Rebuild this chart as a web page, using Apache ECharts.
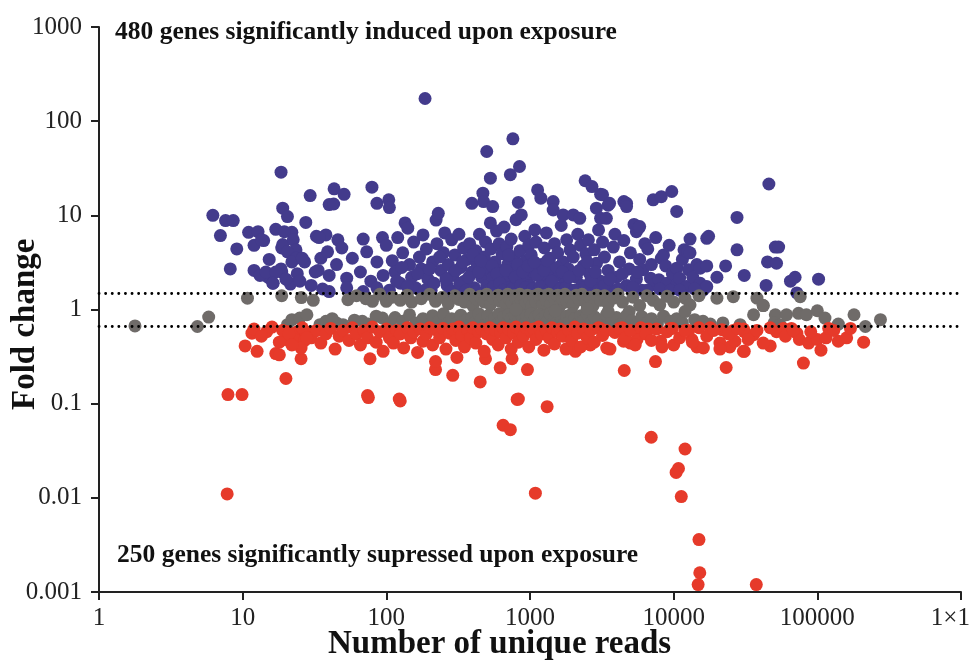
<!DOCTYPE html>
<html><head><meta charset="utf-8">
<script src="https://cdn.jsdelivr.net/npm/echarts/dist/echarts.min.js"></script>
<style>html,body{margin:0;padding:0;background:#fff}#c{width:970px;height:663px}</style>
</head><body><div id="c"></div>
<script>
const xTickLabels = ['1','10','100','1000','10000','100000','1×10⁶'];
const yTickLabels = ['0.001','0.01','0.1','1','10','100','1000'];
const upperCut = 1.5;
const lowerCut = 0.667;
const inducedText = '480 genes significantly induced upon exposure';
const suppressedText = '250 genes significantly supressed upon exposure';
const xTitle = 'Number of unique reads';
const yTitle = 'Fold change';

const inducedGenes = [
[6.2,10],[7.6,8.8],[8.6,8.8],[7,6.1],[9.1,4.4],[8.2,2.7],
[11,6.6],[12.8,6.7],[12,4.8],[14,5.4],[13.5,5.5],[15.3,3.4],[12,2.6],[15,2.2],[16.2,1.9],[13.2,2.3],[14.5,2.5],
[18.5,28.7],[19,11.9],[20.5,9.7],[17,7.1],[22,6.6],[19.5,6.7],[18.7,4.5],[19,4.9],[22.5,5.5],[23.5,4.3],[20.5,4.1],[23.5,3.5],[22,3.2],[27,3.2],[26,3.5],[18.7,2.5],[18.5,2.7],[17,2.5],[21.5,1.86],[16.3,1.9],[20,2.1],[24,2.4],[25,2.0],
[27.5,8.4],[29.5,16.2],[32.6,6],[38,6.2],[34,5.8],[35,3.5],[39,4.1],[33.5,2.6],[32,2.5],[40,2.3],[40,13],[45,3],[40,1.55],[30,1.8],[36,1.65],
[43.3,19.1],[50.8,16.7],[43,13.2],[46,5.5],[49,4.5],[53,2.15],[53,1.7],[58,3.5],[66,2.5],[69,5.6],[73,4.1],[69,1.55],[78,2],[79.4,19.9],[86,13.4],[86,3.2],[86,1.7],[94,5.8],[95,2.3],
[104,14.6],[105,12.1],[100,4.8],[110,3.3],[115,2.5],[120,5.8],[125,1.9],[130,4.0],[135,8.3],[141,7.3],[145,3.0],[150,2.2],[155,5.2],[160,1.7],[170,3.6],[175,2.7],[186,174],[180,6.2],[190,4.4],[195,2.1],[205,1.6],[210,3.2],[222,8.9],[230,10.5],[225,5.0],[240,2.6],[250,4.0],[255,6.5],[265,1.8],[270,3.0],[285,5.5],[290,2.3],[300,3.8],[310,1.6],[320,6.3],[330,2.8],[345,4.5],[350,2.0],[365,3.4],[380,5.0],[394,13.4],[395,2.5],[410,1.7],[420,4.2],[430,3.0],[445,6.3],[460,2.2],[470,17.2],[475,14],[480,3.6],[490,5.2],[500,47.6],[500,1.8],[510,2.7],[530,24.8],[530,8.3],[535,4.4],[550,12.4],[555,2.2],[570,3.2],[585,6.8],[600,1.6],[610,5.0],[625,2.6],[640,3.9],[660,7.5],[670,2.0],[690,4.6],[700,3.0],[720,1.7],[730,27],[740,5.6],[760,65],[760,2.4],[780,3.5],[800,9.0],[810,2.0],[830,13.7],[845,33],[850,4.2],[870,10.1],[880,2.8],[900,1.6],[920,6.0],[940,3.3],[960,2.2],[980,4.8],
[1000,1.8],[1020,3.8],[1050,2.5],[1080,7.0],[1100,5.2],[1130,18.6],[1150,1.6],[1190,15.2],[1200,3.0],[1230,2.1],[1260,4.5],[1300,6.5],[1330,1.8],[1370,3.5],[1400,2.6],[1450,14],[1450,11.4],[1480,5.0],[1520,1.7],[1560,4.0],[1600,2.3],[1650,7.8],[1700,10.1],[1700,3.2],[1750,1.9],[1800,5.5],[1850,2.7],[1900,4.3],[1950,1.6],[2000,10.1],[2000,3.6],[2100,2.2],[2150,6.3],[2220,9.3],[2250,4.8],[2300,1.8],[2350,2.9],[2420,23.3],[2450,3.9],[2550,5.5],[2600,2.4],[2700,20.2],[2700,1.7],[2800,4.3],[2900,11.9],[2900,3.1],[3000,7.0],[3100,16.7],[3100,9.3],[3100,2.0],[3200,16.5],[3200,5.2],[3400,9.3],[3300,3.6],[3500,12.8],[3580,13.4],[3500,2.6],[3700,1.6],[3800,4.6],[3900,6.3],[4000,2.2],[4200,3.2],[4500,14],[4500,5.4],[4700,13.4],[4700,12.4],[4700,1.8],[4900,2.7],[5000,4.0],[5300,8.0],[5500,6.7],[5500,2.1],[5700,7.3],[5800,7.6],[5800,3.4],[6000,1.6],[6100,2.65],[6300,5.0],[6600,4.4],[6900,2.15],[7000,3.0],[7200,14.6],[7300,1.83],[7500,5.8],[7900,2.07],[8200,15.8],[8200,3.5],[8500,3.8],[8800,2.9],[9000,1.9],[9300,4.8],[9700,17.9],[9800,2.4],[10500,11],[10500,2.75],[10500,1.83],[11000,2.15],[11500,3.4],[11800,4.3],[12300,1.75],[12500,4.1],[12700,2.65],[13000,5.6],[13000,4.0],[13600,2.2],[14500,3.0],[15300,2.75],[15300,1.9],[16000,1.6],[17000,5.7],[17500,6.0],[17000,2.9],[17000,1.75],[20000,2.2],[23000,2.9],[27600,9.5],[27600,4.3],[31000,2.3],[44000,1.8],[45000,3.2],[46000,21.5],[51000,4.6],[53800,4.6],[52000,3.1],[65000,2.0],[70000,2.2],[72000,1.5],[102000,2.1],
[105,1.6],[118,2.0],[128,2.8],[140,1.75],[165,2.4],[185,1.6],[200,2.7],[215,1.9],[235,3.6],[260,2.1],[280,1.55],[305,2.6],[325,1.9],[340,3.2],[360,1.6],[375,2.2],[400,3.8],[425,1.55],[440,2.5],[455,3.3],[515,1.6],[545,2.9],[560,1.75],[590,2.4],[615,1.9],[650,1.6],[680,2.6],[710,3.8],[750,1.65],[790,2.2],[820,3.0],[860,1.8],[890,2.5],[930,1.7],[970,2.9],[1040,1.65],[1070,3.2],[1120,2.3],[1180,1.75],[1250,2.6],[1320,3.3],[1360,1.6],[1420,2.0],[1540,2.8],[1620,1.65],[1680,2.5],[1780,1.7],[1880,2.2],[2050,1.6],[2200,2.6],[2400,1.7],[2500,3.2],[2650,2.0],[2850,2.5],[3000,1.6],[3300,1.8],[3600,2.1],[4100,1.65],[4400,2.4],[5200,1.7],[5600,2.5],[6500,1.6],[8000,1.65],[9500,1.6],[11000,1.6],[14000,1.65]
];

const unchangedGenes = [
[1.78,0.67],[4.84,0.66],[5.8,0.83],[10.8,1.32],[18.7,1.4],[25.6,1.34],[31,1.25],[20.5,0.69],[22,0.78],[25,0.81],[28,0.88],[34.5,0.69],[45,0.72],[54,1.27],[68,0.75],[80,1.22],[94,0.81],[100,1.22],
[38,0.75],[42,0.8],[50,0.69],[60,0.77],[75,0.7],[85,0.85],[62,1.4],[72,1.3],[90,1.45],
[110,1.35],[125,1.25],[140,1.42],[150,1.2],[175,1.3],[200,1.45],[220,1.22],[245,1.35],[270,1.15],[300,1.4],[320,1.28],[350,1.2],[380,1.45],[400,1.1],[420,1.3],[450,1.38],[480,1.2],[500,1.45],[530,1.12],[560,1.3],[600,1.42],[620,1.22],[650,1.35],[680,1.12],[700,1.45],[720,1.28],[750,1.18],[780,1.4],[800,1.3],[820,1.08],[850,1.45],[870,1.22],[900,1.35],[930,1.15],[960,1.42],[1000,1.25],[1030,1.1],[1060,1.38],[1100,1.2],[1140,1.45],[1180,1.3],[1220,1.12],[1260,1.4],[1300,1.25],[1350,1.45],[1400,1.15],[1450,1.35],[1500,1.22],[1560,1.42],[1620,1.1],[1680,1.3],[1750,1.45],[1820,1.2],[1900,1.35],[2000,1.12],[2100,1.42],[2200,1.27],[2300,1.45],[2450,1.18],[2600,1.35],[2750,1.1],[2900,1.42],[3100,1.25],[3300,1.4],[3500,1.15],[3800,1.32],[4100,1.45],[4400,1.2],[4900,0.95],[5200,1.35],[5800,1.1],[6500,1.4],[7200,1.25],[8000,1.12],[9000,1.38],[12000,1.32],[13000,1.12],[20000,1.32],[26000,1.37],[38000,1.32],[42000,1.1],[76000,1.37],[10000,1.2],[15000,1.4],
[105,0.7],[115,0.82],[130,0.75],[145,0.88],[160,0.72],[180,0.8],[195,0.68],[210,0.86],[230,0.74],[250,0.9],[265,0.7],[285,0.8],[310,0.72],[330,0.87],[355,0.76],[375,0.68],[395,0.83],[415,0.73],[440,0.9],[460,0.79],[490,0.7],[510,0.86],[540,0.75],[570,0.82],[590,0.69],[610,0.9],[640,0.77],[660,0.84],[690,0.71],[710,0.88],[740,0.8],[770,0.7],[790,0.86],[830,0.75],[860,0.9],[890,0.82],[920,0.7],[950,0.86],[990,0.77],[1020,0.9],[1050,0.72],[1090,0.83],[1120,0.68],[1160,0.88],[1200,0.78],[1240,0.71],[1280,0.86],[1320,0.75],[1380,0.9],[1430,0.69],[1480,0.81],[1540,0.73],[1600,0.88],[1660,0.77],[1720,0.7],[1800,0.85],[1880,0.74],[1960,0.9],[2050,0.8],[2150,0.7],[2250,0.86],[2350,0.76],[2500,0.9],[2650,0.72],[2800,0.84],[3000,0.78],[3200,0.69],[3400,0.88],[3700,0.75],[4000,0.82],[4300,0.7],[4700,0.86],[5100,0.76],[5500,0.68],[6000,0.84],[6600,0.73],[7000,0.8],[7700,0.7],[8500,0.85],[9500,0.75],[10500,0.8],[11500,0.72],[14000,0.78],[16000,0.75],[18000,0.7],[22000,0.72],[29000,0.69],[36000,0.88],[51000,0.88],[61000,0.88],[74000,0.91],[84000,0.88],[100000,0.97],[113000,0.81],[50000,0.72],[55000,0.69],[140000,0.7],[180000,0.88],[216000,0.66],[275000,0.78],[12000,0.95],[42000,1.1],
[1500,0.97],[2500,1.02],[3500,0.95],[800,1.0]
];

const suppressedGenes = [
[7.9,0.125],[9.9,0.125],[7.8,0.011],[20,0.185],[75,0.116],[125,0.107],[650,0.059],[730,0.053],[814,0.111],[1090,0.0112],[1316,0.093],[6980,0.044],[12000,0.033],[10800,0.0205],[10400,0.0186],[11300,0.0103],[15000,0.0036],[15200,0.0016],[14800,0.0012],[37600,0.0012],[4530,0.225],[7470,0.28],[23200,0.242],[80000,0.27],[220,0.23],[290,0.2],[450,0.17],[620,0.24],
[11.6,0.56],[14.7,0.58],[10.4,0.41],[12.6,0.36],[17,0.34],[18,0.33],[25.5,0.30],[20.5,0.58],[24,0.58],[27.5,0.58],[31,0.58],[20,0.48],[23,0.48],[27,0.47],[30,0.5],[25.5,0.39],
[31000,0.58],[36000,0.54],[31000,0.36],[47000,0.41],[52000,0.58],[58000,0.63],[66000,0.63],[72000,0.56],[75000,0.48],[87000,0.44],[100000,0.48],[106000,0.37],[115000,0.5],[120000,0.63],[140000,0.46],[210000,0.45],
[2120,0.62],[2500,0.6],[3080,0.63],[4370,0.64],[5840,0.6],[6680,0.62],[9470,0.63],[12700,0.6],[18000,0.64],[21700,0.61],[26000,0.6],[30600,0.62],
[2070,0.36],[2630,0.42],[3420,0.39],[4480,0.46],[5000,0.44],[5560,0.48],[8120,0.46],[10000,0.42],[13400,0.48],[14500,0.40],[16100,0.39],[21000,0.44],[24600,0.40],[26700,0.46],[30600,0.36],
[77,0.30],[310,0.31],[220,0.28],[960,0.23],[750,0.30],[490,0.30],[74,0.122],[123,0.112],[830,0.112],
[12,0.62],[13.5,0.52],[16,0.65],[18,0.45],[19,0.6],[21,0.55],[22,0.42],[26,0.64],[28,0.5],[33,0.6],[35,0.44],[38,0.55],[41,0.63],[44,0.38],[47,0.52],[50,0.6],[55,0.47],[58,0.64],[62,0.55],[66,0.42],[70,0.6],[74,0.5],[80,0.65],[85,0.45],[90,0.58],[95,0.36],[100,0.62],[105,0.5],[112,0.44],[118,0.6],[125,0.55],[132,0.39],[140,0.64],[148,0.5],[155,0.58],[165,0.35],[172,0.62],[180,0.46],[190,0.55],[200,0.64],[210,0.42],[225,0.6],[235,0.5],[248,0.63],[260,0.38],[275,0.56],[290,0.62],[305,0.47],[320,0.65],[335,0.53],[350,0.4],[370,0.6],[385,0.5],[400,0.64],[420,0.44],[440,0.58],[460,0.62],[480,0.36],[500,0.55],[525,0.64],[550,0.48],[575,0.6],[600,0.42],[625,0.57],[650,0.64],[680,0.5],[710,0.62],[740,0.38],[770,0.56],[800,0.65],[830,0.45],[860,0.6],[900,0.52],[940,0.64],[980,0.4],[1020,0.58],[1060,0.62],[1100,0.48],[1150,0.65],[1200,0.55],[1250,0.37],[1300,0.6],[1360,0.5],[1420,0.64],[1480,0.43],[1550,0.58],[1620,0.62],[1700,0.52],[1780,0.38],[1860,0.6],[1950,0.47],[2050,0.65],[2150,0.56],[2250,0.4],[2350,0.62],[2500,0.5],[2650,0.6],[2800,0.45],[3000,0.64],[3200,0.53],[3400,0.6],[3600,0.38],[3900,0.57],[4200,0.63],[4600,0.5],[5000,0.6],[5400,0.42],[5900,0.64],[6400,0.55],[7000,0.47],[7600,0.62],[8300,0.4],[9000,0.58],[9800,0.63],[11000,0.5],[12000,0.6],[13500,0.45],[15000,0.64],[17000,0.52],[19000,0.6],[21000,0.38],[24000,0.55],[28000,0.63],[33000,0.48],[38000,0.6],[42000,0.44],[47000,0.64],[60000,0.52],[68000,0.6],[90000,0.58],[130000,0.6],[160000,0.5],[170000,0.63]
];

const FONT = "'Liberation Serif','Times New Roman',serif";
const chart = echarts.init(document.getElementById('c'), null, {renderer: 'canvas'});
function tickLabel(arr, offset) {
  return function (v) {
    const e = Math.round(Math.log10(v));
    return arr[e + offset] || '';
  };
}
const axisCommon = {
  type: 'log', logBase: 10, splitNumber: 6,
  axisLine: {show: true, lineStyle: {color: '#222', width: 2}},
  axisTick: {show: true, length: 8, inside: false, lineStyle: {color: '#222', width: 2}},
  minorTick: {show: false},
  splitLine: {show: false},
};
chart.setOption({
  animation: false,
  backgroundColor: '#ffffff',
  grid: {left: 99, right: 9, top: 27, bottom: 71, containLabel: false, outerBoundsMode: 'none'},
  xAxis: Object.assign({}, axisCommon, {
    min: 1, max: 1000000,
    axisLabel: {formatter: tickLabel(xTickLabels, 0), fontFamily: FONT, fontSize: 25, color: '#222', margin: 14, hideOverlap: false, showMaxLabel: true, showMinLabel: true}
  }),
  yAxis: Object.assign({}, axisCommon, {
    min: 0.001, max: 1000,
    axisLabel: {formatter: tickLabel(yTickLabels, 3), fontFamily: FONT, fontSize: 25, color: '#222', margin: 17, showMaxLabel: true, showMinLabel: true}
  }),
  graphic: [
    {type: 'text', left: 115, top: 19, style: {text: inducedText, font: "bold 25.5px " + FONT, fill: '#111'}},
    {type: 'text', left: 117, top: 542, style: {text: suppressedText, font: "bold 25.5px " + FONT, fill: '#111'}},
    {type: 'text', left: 328, top: 628, style: {text: xTitle, font: "bold 33px " + FONT, fill: '#111'}},
    {type: 'text', x: 9, y: 410, rotation: Math.PI / 2, style: {text: yTitle, font: "bold 33px " + FONT, fill: '#111'}}
  ],
  series: [
    {name: 'induced', type: 'scatter', data: inducedGenes, symbol: 'circle', symbolSize: 13, itemStyle: {color: '#433b8c', opacity: 1}, z: 2},
    {name: 'unchanged', type: 'scatter', data: unchangedGenes, symbol: 'circle', symbolSize: 13, itemStyle: {color: '#6f6b69', opacity: 1}, z: 3,
      markLine: {silent: true, symbol: 'none', label: {show: false},
        lineStyle: {color: '#000', width: 2.8, type: [0.1, 6.5], cap: 'round'},
        data: [{yAxis: upperCut}, {yAxis: lowerCut}]}},
    {name: 'suppressed', type: 'scatter', data: suppressedGenes, symbol: 'circle', symbolSize: 13, itemStyle: {color: '#e63a2a', opacity: 1}, z: 4}
  ]
});
</script></body></html>
